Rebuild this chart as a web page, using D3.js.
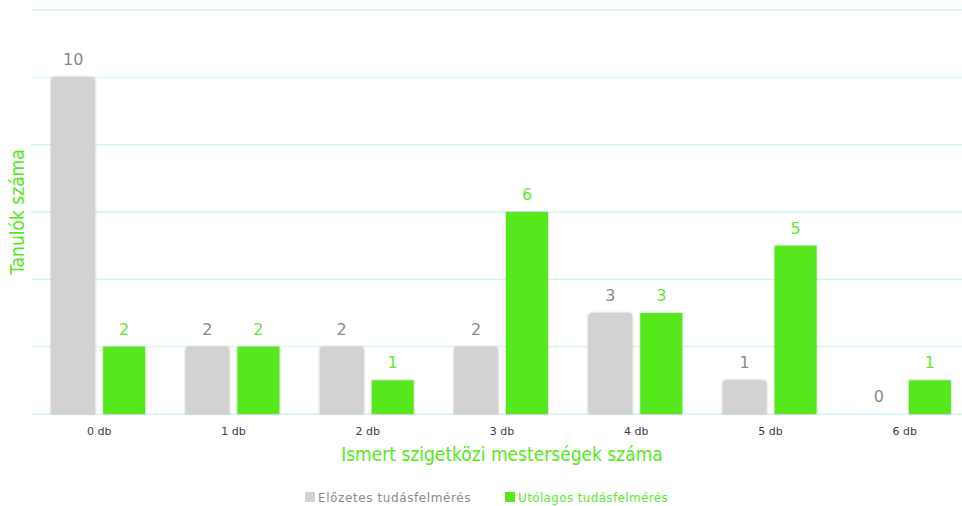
<!DOCTYPE html>
<html><head><meta charset="utf-8">
<script src="https://cdn.jsdelivr.net/npm/d3@7"></script>
<style>body{margin:0;background:#fff}svg{display:block;font-family:"DejaVu Sans",sans-serif}</style>
</head><body><svg id="c" width="962" height="506"></svg>
<script>
const categories = ["0 db","1 db","2 db","3 db","4 db","5 db","6 db"];
const seriesNames = ["Előzetes tudásfelmérés","Utólagos tudásfelmérés"];
const before = [10,2,2,2,3,1,0];
const after = [2,2,1,6,3,5,1];
const yTicks = [0,2,4,6,8,10,12];
const colors = ["#d2d2d2","#56e81a"];
const labelColors = ["#8a8a8a","#5ee830"];

const svg = d3.select("#c");
const defs = svg.append("defs");
const f = defs.append("filter").attr("id","sh").attr("x","-20%").attr("y","-20%").attr("width","140%").attr("height","140%");
f.append("feDropShadow").attr("dx",0).attr("dy",0).attr("stdDeviation",1.2).attr("flood-color","#000").attr("flood-opacity",0.3);

const x = d3.scaleBand().domain(categories).range([32,972]);
const y = d3.scaleLinear().domain([0,12]).range([414,10]);

svg.append("g").selectAll("line").data(yTicks).join("line")
  .attr("x1",31).attr("x2",962).attr("y1",d=>y(d)).attr("y2",d=>y(d))
  .attr("stroke","#d2f3fb").attr("stroke-width",1.3);

const bw = 44, gap = 4;
const series = [before, after];
series.forEach((vals, si) => {
  const g = svg.append("g");
  categories.forEach((c, i) => {
    const v = vals[i];
    const cx = x(c) + x.bandwidth()/2;
    const x0 = si === 0 ? cx - gap - bw : cx + gap;
    if (v > 0) {
      const top = y(v), h = y(0) - y(v);
      if (si === 0) {
        const r = 4;
        g.append("path").attr("filter","url(#sh)").attr("fill",colors[si])
          .attr("d",`M${x0},${y(0)}V${top+r}Q${x0},${top} ${x0+r},${top}H${x0+bw-r}Q${x0+bw},${top} ${x0+bw},${top+r}V${y(0)}Z`);
      } else {
        g.append("rect").attr("filter","url(#sh)").attr("fill",colors[si])
          .attr("x",x0).attr("y",top).attr("width",bw-2).attr("height",h);
      }
    }
    g.append("text").attr("x",x0 + (si===0?bw/2:(bw-2)/2)).attr("y",y(v)-12)
      .attr("text-anchor","middle").attr("font-size",16).attr("fill",labelColors[si]).text(v);
  });
});

const xa = svg.append("g").attr("transform","translate(0,414)")
  .call(d3.axisBottom(x).tickSize(0).tickPadding(13));
xa.select(".domain").remove();
xa.selectAll("text").attr("font-size",11).attr("fill","#3c3c50").attr("font-family","'DejaVu Sans',sans-serif");

svg.append("text").attr("x",502).attr("y",461).attr("text-anchor","middle")
  .attr("font-family","'DejaVu Sans Condensed','DejaVu Sans',sans-serif")
  .attr("font-size",19).attr("fill","#56e81a").text("Ismert szigetközi mesterségek száma");
svg.append("text").attr("transform","translate(24,212) rotate(-90)").attr("text-anchor","middle")
  .attr("font-family","'DejaVu Sans Condensed','DejaVu Sans',sans-serif")
  .attr("font-size",19).attr("fill","#56e81a").text("Tanulók száma");

const leg = [{x:305},{x:505}];
seriesNames.forEach((n,i)=>{
  svg.append("rect").attr("x",leg[i].x).attr("y",492).attr("width",10).attr("height",10).attr("fill",colors[i]);
  svg.append("text").attr("x",leg[i].x+13).attr("y",502).attr("font-size",12)
    .attr("letter-spacing", i===0?0.6:0.35).attr("fill",labelColors[i]).text(n);
});
</script></body></html>
